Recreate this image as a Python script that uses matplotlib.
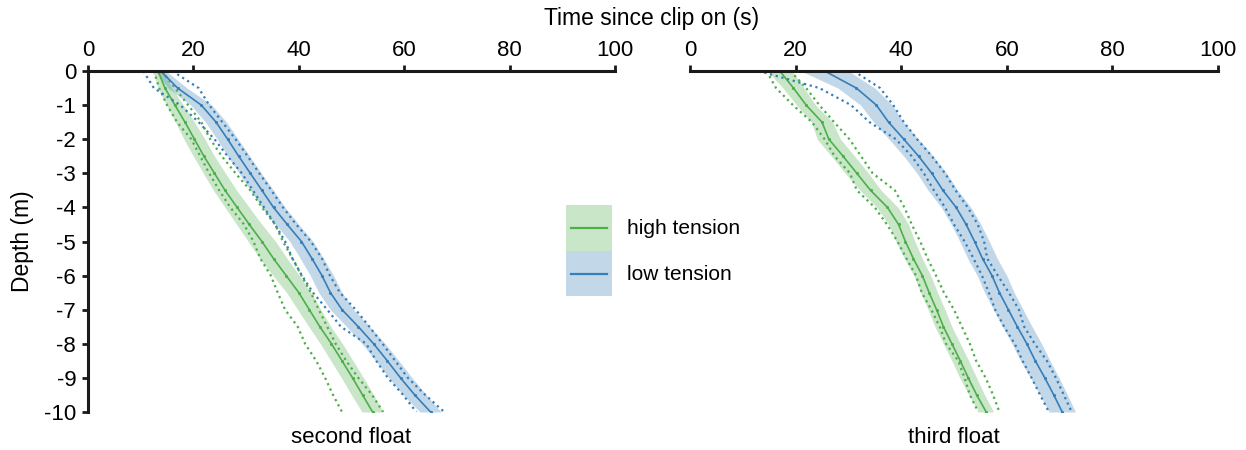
import matplotlib
matplotlib.use("Agg")
import matplotlib.pyplot as plt
import numpy as np
from matplotlib.legend_handler import HandlerBase
from matplotlib.patches import Rectangle
from matplotlib.lines import Line2D

plt.rcParams['font.family'] = ['Liberation Sans', 'DejaVu Sans']
plt.rcParams['axes.unicode_minus'] = False

# depth levels (m)
depth = [0, -0.5, -1, -1.5, -2, -2.5, -3, -3.5, -4, -4.5, -5,
         -5.5, -6, -6.5, -7, -7.5, -8, -8.5, -9, -9.5, -10]

# second float, high tension (s)
second_high_mean = [13.3, 14.6, 16.5, 18.4, 20.2, 22.0, 24.0, 26.0, 28.3, 30.6, 33.0,
                    35.2, 37.6, 40.0, 42.0, 44.0, 46.2, 48.2, 50.2, 52.1, 54.0]
second_high_sd = [1.0, 1.3, 1.6, 1.8, 2.0, 2.0, 2.1, 2.2, 2.3, 2.4, 2.6,
                  2.6, 2.5, 2.3, 2.2, 2.1, 2.1, 2.1, 2.1, 2.1, 2.0]
second_high_runs = [
    [12.5, 13.5, 15.0, 16.9, 19.6, 21.3, 23.0, 24.9, 27.0, 29.6, 31.4,
     32.7, 34.7, 36.0, 37.4, 39.8, 41.2, 43.3, 45.0, 46.5, 48.2],
    [14.0, 16.5, 19.0, 21.5, 23.2, 25.4, 28.0, 30.8, 33.0, 35.5, 37.0,
     38.8, 40.5, 42.3, 43.8, 45.4, 47.0, 49.0, 51.3, 53.9, 56.0],
]

# second float, low tension
second_low_mean = [13.8, 17.0, 21.5, 24.3, 26.5, 28.6, 30.8, 33.0, 35.2, 37.8, 40.5,
                   42.5, 44.4, 46.0, 48.2, 51.3, 54.2, 56.8, 59.3, 62.0, 65.0]
second_low_sd = [1.0, 1.8, 2.0, 2.0, 2.0, 2.1, 2.1, 2.2, 2.2, 2.2, 2.2,
                 2.2, 2.2, 2.2, 2.2, 2.2, 2.2, 2.2, 2.2, 2.2, 2.0]
second_low_runs = [
    [10.5, 12.5, 17.5, 21.0, 24.0, 26.5, 29.2, 31.3, 33.4, 35.5, 37.4,
     38.8, 40.6, 42.7, 45.4, 48.0, 52.8, 54.7, 56.9, 59.8, 62.3],
    [16.0, 21.0, 23.0, 25.5, 28.0, 30.3, 32.5, 34.8, 37.0, 39.5, 42.3,
     44.4, 45.9, 47.8, 50.8, 53.4, 55.9, 58.3, 60.7, 64.0, 67.6],
]

# third float, high tension
third_high_mean = [17.0, 19.6, 22.0, 25.0, 26.3, 29.0, 31.6, 34.2, 37.4, 39.5, 40.8,
                   42.3, 44.0, 45.3, 46.7, 48.0, 49.6, 51.2, 52.7, 54.3, 56.1]
third_high_sd = [2.3, 2.0, 1.8, 2.0, 2.2, 2.2, 2.2, 2.0, 2.0, 1.9, 1.8,
                 1.7, 1.6, 1.6, 1.6, 1.6, 1.6, 1.6, 1.6, 1.5, 1.4]
third_high_runs = [
    [14.5, 16.3, 19.5, 23.1, 25.5, 27.4, 30.3, 31.6, 35.0, 37.3, 39.3,
     41.0, 42.8, 43.9, 45.7, 47.3, 48.5, 50.8, 52.0, 53.0, 54.6],
    [19.0, 22.0, 24.5, 27.3, 30.2, 32.4, 34.6, 38.8, 40.6, 42.0, 43.6,
     45.0, 46.6, 48.1, 50.0, 51.5, 53.0, 54.2, 56.0, 57.4, 58.6],
]

# third float, low tension
third_low_mean = [25.5, 31.5, 35.3, 37.6, 40.5, 43.3, 45.8, 47.9, 50.4, 52.3, 53.9,
                  55.4, 57.2, 58.6, 60.3, 62.0, 63.8, 65.4, 67.2, 68.9, 70.5]
third_low_sd = [4.5, 3.5, 3.0, 2.8, 2.8, 2.8, 2.8, 2.8, 2.8, 2.8, 2.8,
                2.8, 2.8, 2.8, 2.8, 2.8, 2.8, 2.8, 2.7, 2.6, 2.5]
third_low_runs = [
    [13.0, 24.5, 30.5, 34.0, 39.0, 42.0, 44.3, 46.2, 48.3, 50.0, 52.0,
     53.7, 55.3, 56.6, 57.8, 59.5, 61.5, 63.0, 64.7, 66.3, 68.0],
    [31.0, 36.0, 38.5, 40.5, 43.0, 45.8, 48.3, 50.3, 52.6, 54.5, 55.7,
     56.3, 58.3, 60.4, 62.3, 63.3, 65.3, 67.6, 69.3, 70.8, 72.3],
]

panel_names = ['second float', 'third float']
x_ticks = [0, 20, 40, 60, 80, 100]
y_ticks = [0, -1, -2, -3, -4, -5, -6, -7, -8, -9, -10]

green = '#4daf4a'
blue = '#377eb8'
dark = '#1a1a1a'

panels = [
    [(second_high_mean, second_high_sd, second_high_runs, green),
     (second_low_mean, second_low_sd, second_low_runs, blue)],
    [(third_high_mean, third_high_sd, third_high_runs, green),
     (third_low_mean, third_low_sd, third_low_runs, blue)],
]

fig = plt.figure(figsize=(12.46, 4.5), dpi=100)
ax_left = fig.add_axes([88/1246, 1-412/450, 527/1246, 341/450])
ax_right = fig.add_axes([690/1246, 1-412/450, 528/1246, 341/450])
axes = [ax_left, ax_right]

d = np.array(depth)
for i, ax in enumerate(axes):
    for mean, sd, runs, col in panels[i]:
        m = np.array(mean)
        s = np.array(sd)
        ax.fill_betweenx(d, m - s, m + s, color=col, alpha=0.3, lw=0)
        for r in runs:
            ax.plot(r, d, ls=':', color=col, lw=1.6)
        ax.plot(m, d, color=col, lw=1.2, marker='.', ms=2.5)

    ax.set_xlim(0, 100)
    ax.set_ylim(-10, 0)
    ax.xaxis.tick_top()
    ax.set_xticks(x_ticks)
    ax.set_yticks(y_ticks)
    for sp in ['right', 'bottom']:
        ax.spines[sp].set_visible(False)
    for sp in ['top', 'left']:
        ax.spines[sp].set_linewidth(2.2)
        ax.spines[sp].set_color(dark)
    ax.tick_params(axis='both', direction='out', length=4.5, width=2.0,
                   color=dark, labelsize=16, pad=3)
    ax.tick_params(axis='y', pad=4)
    ax.text(0.5, -0.075, panel_names[i], transform=ax.transAxes,
            ha='center', va='center', fontsize=16)

ax_right.spines['left'].set_visible(False)
ax_right.tick_params(axis='y', left=False, labelleft=False)

fig.text(652/1246, 1-18/450, 'Time since clip on (s)', ha='center', va='center', fontsize=16.5)
fig.text(22/1246, 1-241/450, 'Depth (m)', ha='center', va='center', rotation=90, fontsize=16.5)


class BoxLineHandler(HandlerBase):
    def create_artists(self, legend, orig_handle, xdescent, ydescent,
                       width, height, fontsize, trans):
        col = orig_handle.get_color()
        box = Rectangle((-xdescent, -ydescent), width, height, facecolor=col,
                        alpha=0.3, edgecolor='none', transform=trans)
        y = -ydescent + height / 2
        line = Line2D([-xdescent + 0.1 * width, -xdescent + 0.9 * width], [y, y],
                      color=col, lw=1.6, transform=trans)
        return [box, line]


leg_handles = [Line2D([], [], color=green), Line2D([], [], color=blue)]
fig.legend(leg_handles, ['high tension', 'low tension'],
           handler_map={Line2D: BoxLineHandler()},
           loc='upper left', bbox_to_anchor=(566/1246, 1-205/450),
           frameon=False, fontsize=15, handlelength=2.2, handleheight=3.0,
           labelspacing=0, borderpad=0, borderaxespad=0, handletextpad=0.75)

fig.savefig('out.png', dpi=100)
